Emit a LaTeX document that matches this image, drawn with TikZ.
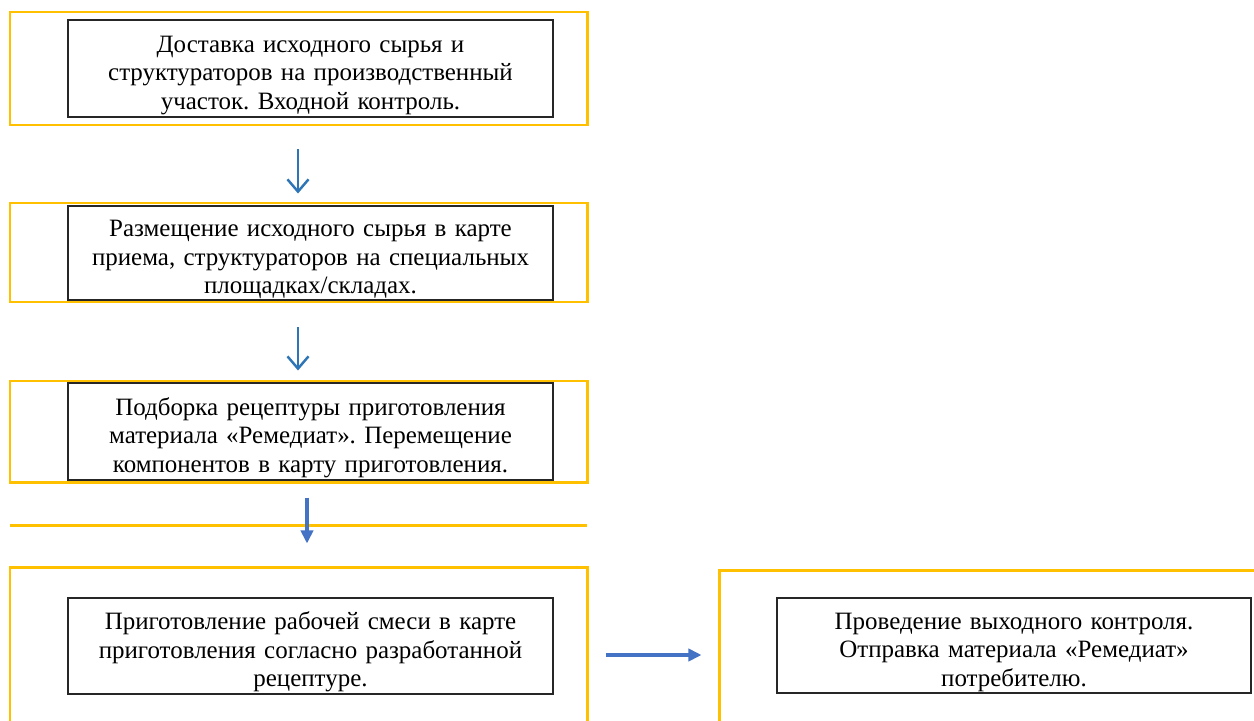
\documentclass[tikz,border=0pt]{standalone}
\usepackage{fontspec}
\setmainfont{Liberation Serif}
\usetikzlibrary{arrows.meta}
\definecolor{frameyellow}{HTML}{FFC000}
\definecolor{arrowblue}{HTML}{2E75B6}
\definecolor{arrowblueb}{HTML}{4472C4}
\tikzset{>=latex}
\frenchspacing
\newcommand{\toprule}{\rule{0pt}{17pt}}

\begin{document}
\begin{tikzpicture}[
    frame/.style={draw=frameyellow, line width=1.7pt, minimum width=11.54cm, inner sep=0pt},
    stage/.style={draw=black!85, line width=0.9pt, text width=9.3cm, align=center,
      minimum width=9.7cm, minimum height=1.92cm, inner sep=0pt,
      font=\fontsize{14.2}{16.2}\selectfont},
    thinarrow/.style={->, >={Straight Barb[length=7pt,width=12pt]}, arrowblue, line width=1.4pt},
    fatarrow/.style={->, >={Triangle[length=7.5pt,width=7pt]}, arrowblueb, line width=1.9pt}
  ]
    \useasboundingbox (0,0) rectangle (25.08,-14.4);
    \clip (0,0) rectangle (25.08,-14.4);

    % yellow frames
    \node[frame, minimum height=2.26cm] (f1) at (5.97,-1.37) {};
    \node[frame, minimum height=1.98cm] (f2) at (5.97,-5.05) {};
    \node[frame, minimum height=2.02cm] (f3) at (5.97,-8.63) {};
    \node[frame, minimum height=3.46cm] (f4) at (5.97,-13.07) {};
    \node[frame, minimum width=11.02cm, minimum height=3.4cm] (f5) at (19.89,-13.1) {};
    \draw[frameyellow, line width=1.7pt] (0.2,-10.5) -- (11.74,-10.5);

    % stages
    \node[stage, minimum height=1.94cm] (s1) at (6.21,-1.37)
      {\toprule Доставка исходного сырья и\\ структураторов на производственный\\ участок. Входной контроль.};
    \node[stage, minimum height=1.88cm] (s2) at (6.21,-5.06)
      {\toprule Размещение исходного сырья в карте\\ приема, структураторов на специальных\\ площадках/складах.};
    \node[stage, minimum height=1.94cm] (s3) at (6.21,-8.63)
      {\toprule Подборка рецептуры приготовления\\ материала «Ремедиат». Перемещение\\ компонентов в карту приготовления.};
    \node[stage] (s4) at (6.21,-12.92)
      {\toprule Приготовление рабочей смеси в карте\\ приготовления согласно разработанной\\ рецептуре.};
    \node[stage, text width=9.1cm, minimum width=9.48cm, minimum height=1.9cm] (s5) at (20.28,-12.91)
      {\toprule Проведение выходного контроля.\\ Отправка материала «Ремедиат»\\ потребителю.};

    % arrows
    \draw[thinarrow, shorten <=0.46cm, shorten >=0.16cm] ([xshift=-0.01cm]f1.south) -- ([xshift=-0.01cm]f2.north);
    \draw[thinarrow, shorten <=0.48cm, shorten >=0.18cm] ([xshift=-0.01cm]f2.south) -- ([xshift=-0.01cm]f3.north);
    \draw[fatarrow, shorten <=0.28cm, shorten >=0.44cm] ([xshift=0.17cm]f3.south) -- ([xshift=0.17cm]f3.south |- f4.north);
    \draw[fatarrow, shorten <=0.34cm, shorten >=0.32cm] (f4.east |- 0,-13.1) -- (f5.west);
\end{tikzpicture}
\end{document}
